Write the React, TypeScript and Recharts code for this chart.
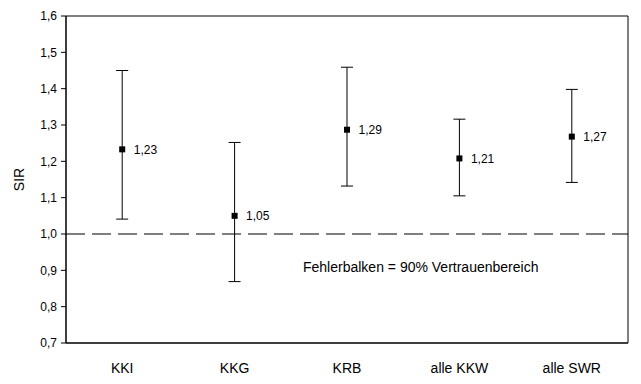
import React from 'react';
import {
  ComposedChart,
  Scatter,
  ErrorBar,
  XAxis,
  YAxis,
  ReferenceLine,
  ReferenceArea,
  LabelList,
} from 'recharts';

const CATEGORIES = ['KKI', 'KKG', 'KRB', 'alle KKW', 'alle SWR'];
const SIR = [1.233, 1.05, 1.287, 1.208, 1.268];
const LOWER = [1.041, 0.869, 1.132, 1.105, 1.142];
const UPPER = [1.45, 1.252, 1.459, 1.316, 1.398];
const Y_TICKS = [0.7, 0.8, 0.9, 1.0, 1.1, 1.2, 1.3, 1.4, 1.5, 1.6];

const FONT = 'Arial, "Liberation Sans", sans-serif';

// each category sits in the middle of its own slot on a 0..n axis
const data = CATEGORIES.map((name, i) => ({
  name,
  pos: i + 0.5,
  sir: SIR[i],
  err: [SIR[i] - LOWER[i], UPPER[i] - SIR[i]],
}));
const X_TICKS = data.map(d => d.pos);

const comma = (v: number, digits: number) => v.toFixed(digits).replace('.', ',');

const Square = (props: any) => {
  const { cx, cy } = props;
  if (cx == null || cy == null) return null;
  return <rect x={cx - 3} y={cy - 3} width={6} height={6} fill="#000" />;
};

export default function App() {
  return (
    <div style={{ position: 'relative', width: 641, height: 384, fontFamily: FONT, background: '#fff' }}>
      <style>{`body{margin:0}`}</style>
      <ComposedChart
        width={641}
        height={384}
        data={data}
        margin={{ top: 16, right: 13, bottom: 0, left: 0 }}
      >
        <XAxis
          dataKey="pos"
          type="number"
          domain={[0, CATEGORIES.length]}
          allowDataOverflow
          ticks={X_TICKS}
          interval={0}
          tickFormatter={(v: number) => CATEGORIES[Math.floor(v)]}
          axisLine={{ stroke: '#000' }}
          tickLine={false}
          tickMargin={14}
          height={41}
          tick={{ fill: '#000', fontSize: 14, fontFamily: FONT }}
        />
        <YAxis
          type="number"
          domain={[0.7, 1.6]}
          allowDataOverflow
          ticks={Y_TICKS}
          interval={0}
          width={66}
          tickSize={5}
          tickMargin={4}
          axisLine={{ stroke: '#000' }}
          tickLine={{ stroke: '#000' }}
          tickFormatter={(v: number) => comma(v, 1)}
          tick={{ fill: '#000', fontSize: 12, fontFamily: FONT }}
          label={{
            value: 'SIR',
            angle: -90,
            position: 'insideLeft',
            offset: 19,
            style: { textAnchor: 'middle', fill: '#000', fontSize: 14, fontFamily: FONT },
          }}
        />
        {/* plot frame */}
        <ReferenceArea
          x1={0}
          x2={CATEGORIES.length}
          y1={0.7}
          y2={1.6}
          ifOverflow="visible"
          stroke="#000"
          strokeWidth={1}
          fill="#fff"
          fillOpacity={0}
        />
        <ReferenceLine y={1} stroke="#000" strokeDasharray="19 7" />
        <Scatter dataKey="sir" shape={<Square />} isAnimationActive={false}>
          <ErrorBar dataKey="err" direction="y" width={6} stroke="#000" strokeWidth={1} />
          <LabelList
            dataKey="sir"
            position="right"
            offset={7}
            formatter={(v: any) => comma(Math.round(Number(v) * 100) / 100, 2)}
            style={{ fill: '#000', fontSize: 12, fontFamily: FONT }}
          />
        </Scatter>
      </ComposedChart>
      <div
        style={{
          position: 'absolute',
          left: 303,
          top: 260,
          fontSize: 14,
          lineHeight: '14px',
          color: '#000',
          whiteSpace: 'nowrap',
        }}
      >
        Fehlerbalken = 90% Vertrauenbereich
      </div>
    </div>
  );
}
